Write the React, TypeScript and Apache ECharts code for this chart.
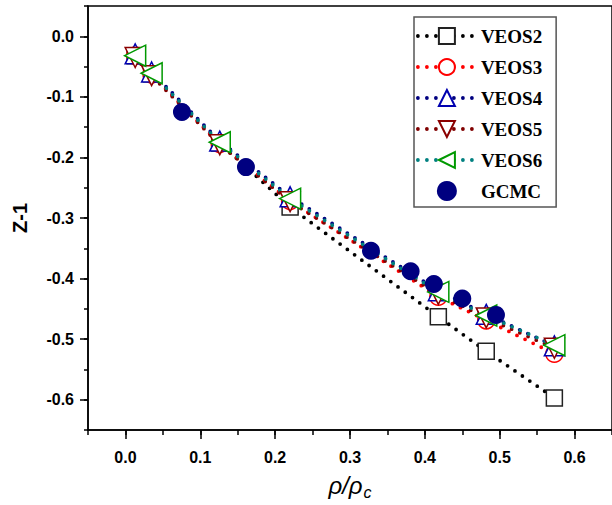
import React, { useEffect, useRef } from "react";
import * as echarts from "echarts";

const densities = [0.013, 0.035, 0.126, 0.22, 0.418, 0.482, 0.573];
const veos2 = [-0.032, -0.062, -0.176, -0.282, -0.463, -0.52, -0.597];
const veos3 = [-0.032, -0.063, -0.178, -0.272, -0.43, -0.469, -0.524];
const veos4 = [-0.029, -0.059, -0.173, -0.265, -0.42, -0.459, -0.511];
const veos5 = [-0.035, -0.065, -0.179, -0.273, -0.426, -0.465, -0.515];
const veos6 = [-0.032, -0.061, -0.175, -0.268, -0.422, -0.461, -0.51];
const gcmcX = [0.0755, 0.161, 0.328, 0.381, 0.412, 0.45, 0.495];
const gcmcY = [-0.125, -0.216, -0.354, -0.388, -0.409, -0.433, -0.46];

const xMajorTicks = [0, 0.1, 0.2, 0.3, 0.4, 0.5, 0.6];
const yMajorTicks = [0, -0.1, -0.2, -0.3, -0.4, -0.5, -0.6];
const seriesNames = ["VEOS2", "VEOS3", "VEOS4", "VEOS5", "VEOS6", "GCMC"];

const pair = (xs: number[], ys: number[]) => xs.map((x, i) => [x, ys[i]]);

export default function App() {
  const ref = useRef<HTMLDivElement>(null);
  useEffect(() => {
    if (!ref.current) return;
    const chart = echarts.init(ref.current, undefined, { renderer: "svg" });
    const dots = { type: [0, 9], cap: "round", width: 3.8 } as any;
    const lineSeries = (
      name: string,
      ys: number[],
      symbol: string,
      rotate: number,
      lineColor: string,
      markColor: string,
      size: number
    ) => ({
      name,
      type: "line",
      data: pair(densities, ys),
      symbol,
      symbolRotate: rotate,
      symbolSize: size,
      showAllSymbol: true,
      lineStyle: { ...dots, color: lineColor },
      itemStyle: { color: "#fff", borderColor: markColor, borderWidth: 1.5, opacity: 1 },
      z: 2,
    });
    const labelFont = {
      fontFamily: "Liberation Sans",
      fontWeight: "bold",
      fontSize: 16,
      color: "#000",
    };
    chart.setOption({
      animation: false,
      backgroundColor: "#fff",
      grid: {
        left: 88,
        top: 6,
        right: -1,
        bottom: 73,
        show: true,
        borderColor: "#000",
        borderWidth: 1.5,
      },
      legend: {
        orient: "vertical",
        left: 414,
        top: 17,
        padding: [8, 14, 5, 2],
        itemGap: 9,
        itemWidth: 58,
        itemHeight: 20,
        borderColor: "#555",
        borderWidth: 1.5,
        backgroundColor: "#fff",
        data: seriesNames,
        lineStyle: { type: [0, 9], cap: "round", width: 3.8 },
        textStyle: {
          fontFamily: "Liberation Serif",
          fontWeight: "bold",
          fontSize: 19,
          lineHeight: 22,
          color: "#000",
        },
      },
      xAxis: [
        {
          type: "value",
          min: -0.05,
          max: 0.65,
          name: "{a|ρ/ρ}{b|c}",
          nameLocation: "middle",
          nameGap: 40,
          nameTextStyle: {
            rich: {
              a: { fontFamily: "Liberation Sans", fontStyle: "italic", fontSize: 24, color: "#000" },
              b: {
                fontFamily: "Liberation Sans",
                fontStyle: "italic",
                fontSize: 16,
                color: "#000",
                padding: [14, 0, 0, 1],
              },
            },
          },
          splitLine: { show: false },
          axisLine: { onZero: false, lineStyle: { color: "#000", width: 1.5 } },
          axisTick: { customValues: xMajorTicks, length: 9, lineStyle: { color: "#000", width: 1.5 } },
          axisLabel: {
            customValues: xMajorTicks,
            margin: 19,
            formatter: (v: number) => v.toFixed(1),
            ...labelFont,
          },
        },
        {
          type: "value",
          position: "bottom",
          min: -0.05,
          max: 0.65,
          interval: 0.05,
          splitLine: { show: false },
          axisLine: { show: false, onZero: false },
          axisTick: { length: 5, lineStyle: { color: "#000", width: 1.5 } },
          axisLabel: { show: false },
        },
      ],
      yAxis: [
        {
          type: "value",
          min: -0.65,
          max: 0.05,
          name: "Z-1",
          nameLocation: "middle",
          nameGap: 58,
          nameTextStyle: {
            fontFamily: "Liberation Sans",
            fontWeight: "bold",
            fontSize: 20,
            color: "#000",
          },
          splitLine: { show: false },
          axisLine: { onZero: false, lineStyle: { color: "#000", width: 1.5 } },
          axisTick: { customValues: yMajorTicks, length: 8, lineStyle: { color: "#000", width: 1.5 } },
          axisLabel: {
            customValues: yMajorTicks,
            margin: 14,
            formatter: (v: number) => v.toFixed(1),
            ...labelFont,
          },
        },
        {
          type: "value",
          position: "left",
          min: -0.65,
          max: 0.05,
          interval: 0.05,
          splitLine: { show: false },
          axisLine: { show: false, onZero: false },
          axisTick: { length: 4, lineStyle: { color: "#000", width: 1.5 } },
          axisLabel: { show: false },
        },
      ],
      series: [
        lineSeries("VEOS2", veos2, "rect", 0, "#000", "#222", 16),
        lineSeries("VEOS3", veos3, "circle", 0, "#ff0000", "#ff0000", 17),
        lineSeries("VEOS4", veos4, "triangle", 0, "#000080", "#0000b0", 20),
        lineSeries("VEOS5", veos5, "triangle", 180, "#800000", "#8b0000", 20),
        lineSeries("VEOS6", veos6, "triangle", 90, "#008080", "#009900", 21),
        {
          name: "GCMC",
          type: "scatter",
          data: pair(gcmcX, gcmcY),
          symbol: "circle",
          symbolSize: 18,
          itemStyle: { color: "#000080", opacity: 1 },
          z: 3,
        },
      ],
    });
    return () => chart.dispose();
  }, []);
  return (
    <div
      ref={ref}
      style={{ position: "fixed", left: 0, top: 0, width: 612, height: 505 }}
    />
  );
}
